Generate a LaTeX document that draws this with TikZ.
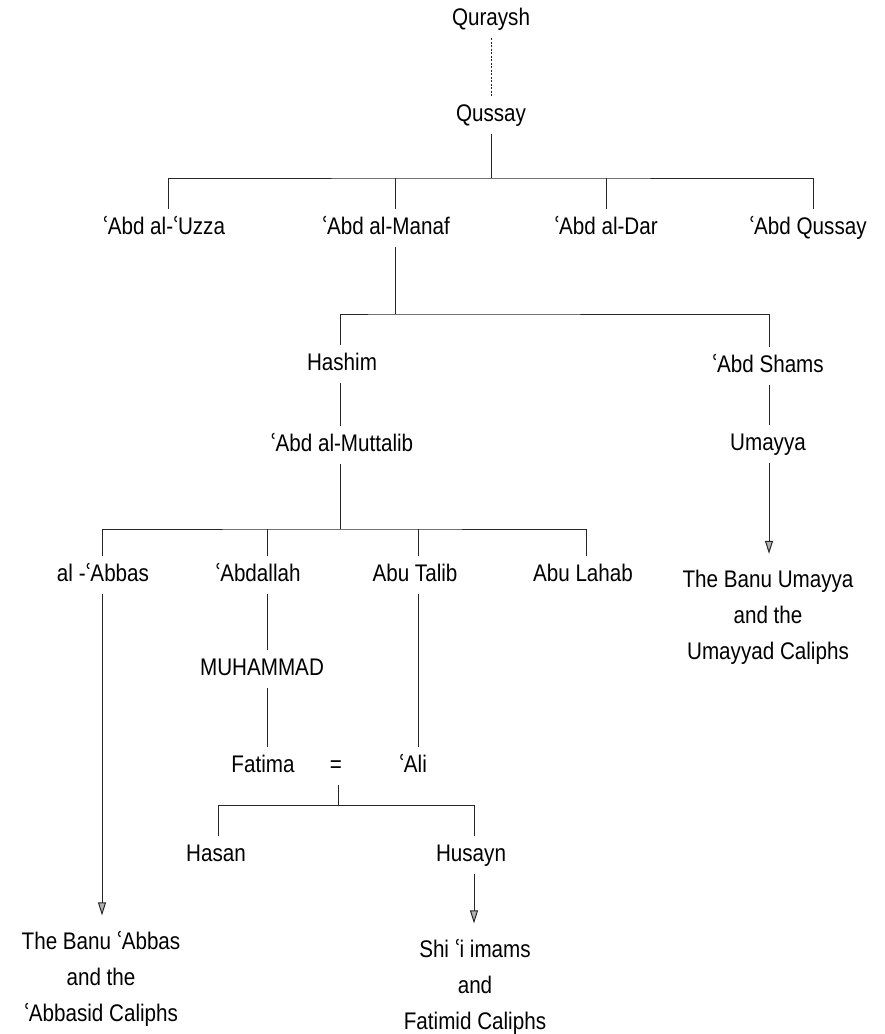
\documentclass[tikz,border=0pt]{standalone}
\usepackage{fontspec}
\setmainfont{Liberation Sans}[FakeStretch=0.86]
\newfontfamily\aynfont{DejaVu Sans}[FakeStretch=0.86]
\newcommand\ayn{{\aynfont ʿ}\kern-1.5pt}
\usetikzlibrary{arrows.meta}
\begin{document}
\begin{tikzpicture}[x=1pt,y=-1pt,
    person/.style={font=\fontsize{24}{36}\selectfont, text height=17pt, text depth=5pt, inner sep=0pt, outer ysep=8pt},
    house/.style={font=\fontsize{24}{36}\selectfont, align=center, inner sep=0pt, outer ysep=16pt},
    kin/.style={line width=1pt, black!85},
    descent/.style={kin, -{Triangle[width=8pt,length=13pt,fill=gray!60]}}]
  \useasboundingbox (0,0) rectangle (885,1034);

  % the tribe and its founder
  \node[person] (quraysh) at (491,19) {Quraysh};
  \node[person] (qussay) at (491,115) {Qussay};
  \draw[kin, dash pattern=on 2pt off 1.5pt] (quraysh.south) -- (qussay.north);

  % sons of Qussay
  \node[person] (uzza) at (164,228) {\ayn Abd al-\ayn Uzza};
  \node[person] (manaf) at (386,228) {\ayn Abd al-Manaf};
  \node[person] (dar) at (606,228) {\ayn Abd al-Dar};
  \node[person] (abdqussay) at (808,228) {\ayn Abd Qussay};
  \coordinate (qbar) at (491,178);
  \draw[kin] (qussay.south) -- (qbar);
  \draw[kin] ([xshift=4pt]uzza.north) |- (qbar) -| ([xshift=5pt]abdqussay.north);
  \draw[kin] ([xshift=9pt]manaf.north) -- ([xshift=9pt]manaf.north |- qbar);
  \draw[kin] (dar.north) -- (dar.north |- qbar);

  % sons of Abd al-Manaf
  \node[person] (hashim) at (342,364) {Hashim};
  \node[person] (shams) at (768,366) {\ayn Abd Shams};
  \node[person] (muttalib) at (342,445) {\ayn Abd al-Muttalib};
  \node[person] (umayya) at (768,444) {Umayya};
  \node[house] (banuumayya) at (768,617) {The Banu Umayya\\and the\\Umayyad Caliphs};
  \coordinate (mbar) at (395,314);
  \draw[kin] ([xshift=9pt]manaf.south) -- (mbar);
  \draw[kin] ([xshift=-2pt]hashim.north) |- (mbar) -| ([xshift=1pt]shams.north);
  \draw[kin] ([xshift=-2pt]hashim.south) -- ([xshift=-2pt]muttalib.north);
  \draw[kin] ([xshift=1pt]shams.south) -- ([xshift=1pt]umayya.north);
  \draw[descent] ([xshift=1pt]umayya.south) -- ([xshift=1pt]banuumayya.north);

  % sons of Abd al-Muttalib
  \node[person] (abbas) at (103,575) {al -\ayn Abbas};
  \node[person] (abdallah) at (258,575) {\ayn Abdallah};
  \node[person] (abutalib) at (415,575) {Abu Talib};
  \node[person] (abulahab) at (583,575) {Abu Lahab};
  \coordinate (fbar) at (340,529);
  \draw[kin] ([xshift=-2pt]muttalib.south) -- (fbar);
  \draw[kin] ([xshift=-1pt]abbas.north) |- (fbar) -| ([xshift=3pt]abulahab.north);
  \draw[kin] ([xshift=9pt]abdallah.north) -- ([xshift=9pt]abdallah.north |- fbar);
  \draw[kin] ([xshift=3pt]abutalib.north) -- ([xshift=3pt]abutalib.north |- fbar);

  \node[house] (banuabbas) at (101,979) {The Banu \ayn Abbas\\and the\\\ayn Abbasid Caliphs};
  \draw[descent] ([xshift=-1pt]abbas.south) -- ([xshift=-1pt]abbas.south |- banuabbas.north);

  % the Prophet and his house
  \node[person] (muhammad) at (262,669) {MUHAMMAD};
  \node[person] (fatima) at (263,766) {Fatima};
  \node[person] (marriage) at (336,766) {=};
  \node[person] (ali) at (413,766) {\ayn Ali};
  \draw[kin] ([xshift=9pt]abdallah.south) -- ([xshift=5pt]muhammad.north);
  \draw[kin] ([xshift=5pt]muhammad.south) -- ([xshift=4pt]fatima.north);
  \draw[kin] ([xshift=3pt]abutalib.south) -- ([xshift=5pt]ali.north);

  \node[person] (hasan) at (216,855) {Hasan};
  \node[person] (husayn) at (471,855) {Husayn};
  \coordinate (cbar) at (338,805);
  \draw[kin] ([xshift=2pt]marriage.south) -- (cbar);
  \draw[kin] ([xshift=2pt]hasan.north) |- (cbar) -| ([xshift=3pt]husayn.north);

  \node[house] (shii) at (475,987) {Shi \ayn i imams\\and\\Fatimid Caliphs};
  \draw[descent] ([xshift=3pt]husayn.south) -- ([xshift=3pt]husayn.south |- shii.north);
\end{tikzpicture}
\end{document}
